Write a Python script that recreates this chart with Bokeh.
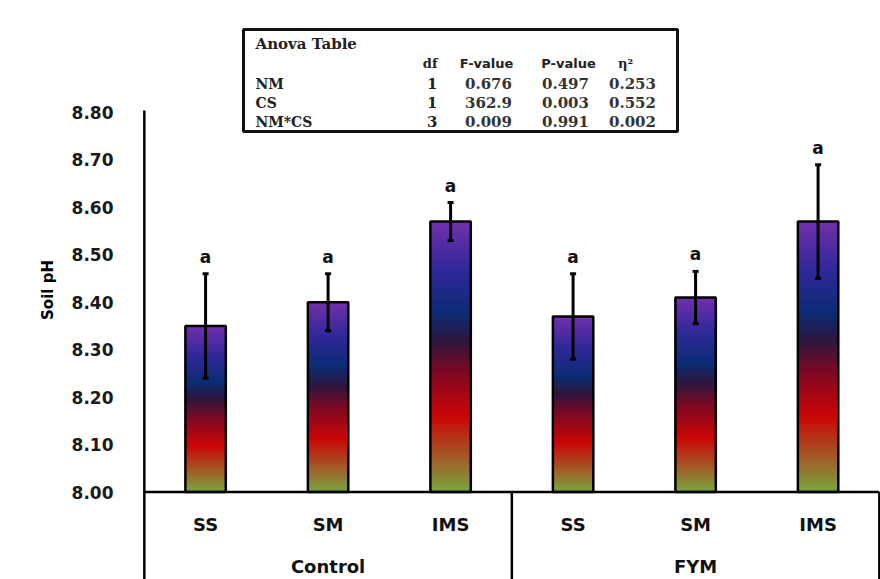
import numpy as np
from bokeh.plotting import figure
from bokeh.models import Range1d, FixedTicker, PrintfTickFormatter, ColumnDataSource, Whisker, TeeHead
from bokeh.core.properties import value
from bokeh.embed import file_html
from bokeh.resources import INLINE

# ---------------- data ----------------
groups = ["Control", "FYM"]
systems = ["SS", "SM", "IMS"]
soil_ph = [8.35, 8.40, 8.57, 8.37, 8.41, 8.57]
soil_ph_sd = [0.11, 0.06, 0.04, 0.09, 0.055, 0.12]
letters = ["a", "a", "a", "a", "a", "a"]
y_ticks = [8.00, 8.10, 8.20, 8.30, 8.40, 8.50, 8.60, 8.70, 8.80]

anova_title = "Anova Table"
anova_headers = ["df", "F-value", "P-value", "η²"]
anova_terms = ["NM", "CS", "NM*CS"]
anova_df = ["1", "1", "3"]
anova_f = ["0.676", "362.9", "0.009"]
anova_p = ["0.497", "0.003", "0.991"]
anova_eta = ["0.253", "0.552", "0.002"]

# gradient stops (fraction of bar height -> colour)
grad_pos = [0.00, 0.12, 0.28, 0.45, 0.56, 0.66, 0.82, 1.00]
grad_col = ["#79a83e", "#a0602a", "#cc0606", "#7a0a24", "#2e163e", "#0c2c74", "#30289a", "#7231ac"]

# ---------------- layout helpers ----------------
W, H = 880, 579
BORDER_LEFT = 142
PPX = 122.5           # px per category
X0 = -0.015
X1 = X0 + (W - BORDER_LEFT) / PPX
PPY = 474.4           # px per pH unit
BASE = 8.0


def dx(px):
    return X0 + (px - BORDER_LEFT) / PPX


def dy(py):
    return BASE + (491.5 - py) / PPY


Y0, Y1 = dy(H), dy(0)

p = figure(width=W, height=H, x_range=Range1d(X0, X1), y_range=Range1d(Y0, Y1),
           output_backend="svg", toolbar_location=None, x_axis_location=None,
           min_border_left=BORDER_LEFT, min_border_right=0, min_border_top=0, min_border_bottom=0)
p.grid.visible = False
p.outline_line_color = None
p.background_fill_color = "white"

# y axis (tick labels only)
ax = p.yaxis[0]
ax.ticker = FixedTicker(ticks=y_ticks)
ax.formatter = PrintfTickFormatter(format="%.2f")
ax.axis_line_color = None
ax.major_tick_line_color = None
ax.minor_tick_line_color = None
ax.major_label_standoff = 23
ax.major_label_text_font = "DejaVu Sans"
ax.major_label_text_font_style = "bold"
ax.major_label_text_font_size = "17px"
ax.major_label_text_color = "#1a1a1a"
ax.axis_label = "Soil pH"
ax.axis_label_text_font = "DejaVu Sans"
ax.axis_label_text_font_style = "bold"
ax.axis_label_text_font_size = "15px"
ax.axis_label_text_color = "black"
ax.axis_label_standoff = 12

# ---------------- gradient bars ----------------
n = len(soil_ph)
xc = [i + 0.5 for i in range(n)]
BAR_W = 0.33
N_SLICES = 80


def grad_color(f):
    r = np.interp(f, grad_pos, [int(c[1:3], 16) for c in grad_col])
    g = np.interp(f, grad_pos, [int(c[3:5], 16) for c in grad_col])
    b = np.interp(f, grad_pos, [int(c[5:7], 16) for c in grad_col])
    return "#%02x%02x%02x" % (int(r), int(g), int(b))


ql, qr, qb, qt, qc = [], [], [], [], []
for i, v in enumerate(soil_ph):
    for k in range(N_SLICES):
        ql.append(xc[i] - BAR_W / 2)
        qr.append(xc[i] + BAR_W / 2)
        qb.append(BASE + (v - BASE) * k / N_SLICES)
        qt.append(v)
        qc.append(grad_color((k + 0.5) / N_SLICES))
p.quad(left=ql, right=qr, bottom=qb, top=qt, fill_color=qc, line_color=None)

src = ColumnDataSource(dict(x=xc, top=soil_ph,
                            upper=[m + s for m, s in zip(soil_ph, soil_ph_sd)],
                            lower=[m - s for m, s in zip(soil_ph, soil_ph_sd)],
                            lab=letters))
p.vbar(x="x", top="top", bottom=BASE, width=BAR_W, source=src,
       fill_color=None, line_color="black", line_width=2.5)

# error bars (drawn above the bars)
wh = Whisker(base="x", upper="upper", lower="lower", source=src,
             line_color="black", line_width=3, level="overlay",
             upper_head=TeeHead(size=6, line_color="black", line_width=3),
             lower_head=TeeHead(size=6, line_color="black", line_width=3))
p.add_layout(wh)

# letters
p.text(x=xc, y=[u + 7 / PPY for u in src.data["upper"]], text=letters,
       text_font=value("DejaVu Sans"), text_font_style="bold", text_font_size="17px",
       text_align="center", text_baseline="bottom", text_color="#111111")

# ---------------- category box ----------------
lw = 2.5
p.segment(x0=[0, 0, 3, 6], y0=[dy(110), BASE, BASE, BASE],
          x1=[0, 6, 3, 6], y1=[Y0, BASE, Y0, Y0],
          line_color="black", line_width=lw)

cat_labels = systems * len(groups)
p.text(x=xc, y=[dy(524)] * n, text=cat_labels,
       text_font=value("DejaVu Sans"), text_font_style="bold", text_font_size="18px",
       text_align="center", text_baseline="middle", text_color="#111111")
p.text(x=[len(systems) * (g + 0.5) for g in range(len(groups))], y=[dy(566)] * len(groups),
       text=groups, text_font=value("DejaVu Sans"), text_font_style="bold", text_font_size="18px",
       text_align="center", text_baseline="middle", text_color="#111111")

# ---------------- ANOVA table ----------------
p.quad(left=[dx(243)], right=[dx(677)], top=[dy(29)], bottom=[dy(131)],
       fill_color="white", line_color="#111111", line_width=3)

serif = value("DejaVu Serif")
p.text(x=[dx(255)], y=[dy(43)], text=[anova_title], text_font=serif, text_font_style="bold",
       text_font_size="15px", text_align="left", text_baseline="middle", text_color="#222222")

hdr_x = [dx(437), dx(486), dx(568), dx(625)]
hdr_align = ["right", "center", "center", "center"]
hdr_font = ["DejaVu Serif", "DejaVu Sans", "DejaVu Sans", "DejaVu Serif"]
for hx, ht, ha, hf in zip(hdr_x, anova_headers, hdr_align, hdr_font):
    p.text(x=[hx], y=[dy(63)], text=[ht], text_font=value(hf), text_font_style="bold",
           text_font_size="13px", text_align=ha, text_baseline="middle", text_color="#222222")

row_y = [dy(83), dy(102), dy(121)]
p.text(x=[dx(255)] * 3, y=row_y, text=anova_terms, text_font=serif, text_font_style="bold",
       text_font_size="14px", text_align="left", text_baseline="middle", text_color="#222222")
p.text(x=[dx(437)] * 3, y=row_y, text=anova_df, text_font=serif, text_font_style="bold",
       text_font_size="15px", text_align="right", text_baseline="middle", text_color="#222222")
for cx, col in zip([dx(488), dx(565), dx(632)], [anova_f, anova_p, anova_eta]):
    p.text(x=[cx] * 3, y=row_y, text=col, text_font=serif, text_font_style="bold",
           text_font_size="15px", text_align="center", text_baseline="middle", text_color="#333333")

open("out.html", "w").write(file_html(p, INLINE))
